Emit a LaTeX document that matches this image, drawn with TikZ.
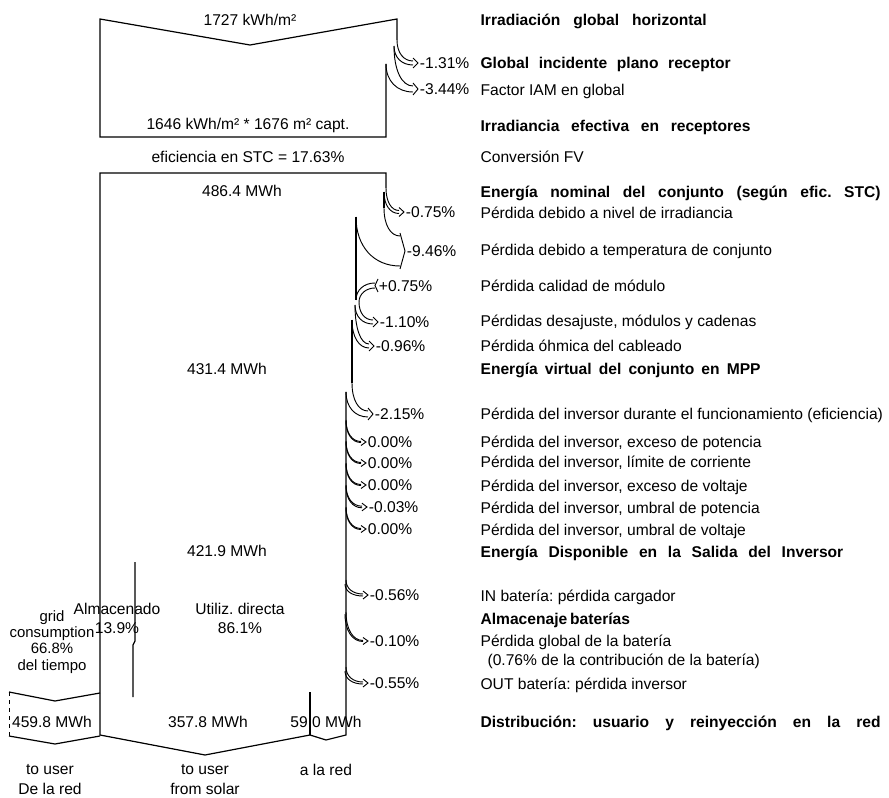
\documentclass[tikz,border=0pt]{standalone}
\usepackage{fontspec}
\setmainfont{Liberation Sans}
\usetikzlibrary{calc}
\frenchspacing

\begin{document}
\begin{tikzpicture}[x=0.75pt, y=-0.75pt, line width=0.9pt,
    font=\fontsize{11.7}{14.25}\selectfont,
    pct/.style={anchor=west, inner sep=1pt},
    desc/.style={anchor=base west, inner sep=0pt},
    title/.style={desc, font=\fontsize{11.7}{14.25}\selectfont\bfseries}]
\useasboundingbox (0,0) rectangle (889,798);

% Irradiance box
\draw (386,64) -- (386,137) -- (100,137) -- (100,19) -- (250,45) -- (397,19) -- (397,40);

% Energy flow outline
\draw (386,188) -- (386,173) -- (100,173) -- (100,735) -- (205,755) -- (310,735) -- (326,740) -- (346,735) -- (346,392);
\draw (384,192) -- (384,208);
\draw (356,217) -- (356,300);
\draw (352,320) -- (352,383);

% Storage and grid split
\draw (135,562) -- (135,641) -- (133,645) -- (133,697);
\draw (310,692) -- (310,735);
\draw (100,693) -- (55,701) -- (9,692);
\draw[dashed, line width=0.7pt] (9,692) -- (9,736);
\draw (9,736) -- (55,744) -- (100,736);

% Losses
\foreach \xa/\ya/\xb/\yb/\xt/\yt/\w/\p [count=\i] in {
    397/40/394/46/418/63/2/-1.31\%,
    394/46/386/64/418/89/3/-3.44\%,
    386/188/384/192/404/212/1.5/-0.75\%,
    384/208/356/217/405/251/15/-9.46\%,
    359/302/355/305/378/322/2/-1.10\%,
    355/305/352/320/374/346/2/-0.96\%,
    352/383/346/392/373/414/3/-2.15\%,
    346/420/346/421/366/442/0.5/0.00\%,
    346/441/346/442/366/463/0.5/0.00\%,
    346/463/346/464/366/485/0.5/0.00\%,
    346/485/346/486/367/507/0.8/-0.03\%,
    346/507/346/508/366/529/0.5/0.00\%,
    346/580/345/584/368/595/1/-0.56\%,
    346/612/345/614/368/641/0.5/-0.10\%,
    346/667/345/671/368/683/1/-0.55\%} {
  \draw[line width=0.7pt] (\xa,\ya) .. controls (\xa,{\ya+0.6*(\yt-\w-\ya)}) and ({\xt-5-0.6*(\xt-5-\xa)},{\yt-\w}) .. ({\xt-5},{\yt-\w});
  \draw[line width=0.7pt] (\xb,\yb) .. controls (\xb,{\yb+0.6*(\yt+\w-\yb)}) and ({\xt-5-0.6*(\xt-5-\xb)},{\yt+\w}) .. ({\xt-5},{\yt+\w});
  \draw[line width=0.7pt] ({\xt-5},{\yt-\w-3}) -- (\xt,\yt) -- ({\xt-5},{\yt+\w+3});
  \node[pct] (loss\i) at (\xt,\yt) {\p};
}

% Module quality gain
\draw[line width=0.7pt] (375,283) .. controls (364,283) and (356,290) .. (356,300);
\draw[line width=0.7pt] (375,288) .. controls (366,288) and (359,294) .. (359,302);
\draw[line width=0.7pt] (378,279) -- (375,285.5) -- (378,292);
\node[pct] (gain) at (377,286) {+0.75\%};

% Values inside the flow
\node (irrtop) at (250,20) {1727 kWh/m²};
\node (irrbot) at (248,125) {1646 kWh/m² * 1676 m² capt.};
\node (eff) at (248,157) {eficiencia en STC = 17.63\%};
\node (enom) at (242,191) {486.4 MWh};
\node (evirt) at (227,369) {431.4 MWh};
\node (eout) at (227,551) {421.9 MWh};
\node[align=center] (stored) at (117,618) {Almacenado\\13.9\%};
\node[align=center] (direct) at (240,618) {Utiliz. directa\\86.1\%};
\node[align=center, font=\fontsize{11.2}{12.2}\selectfont] (gridc) at (52,642) {grid\\consumption\\66.8\%\\del tiempo};
\node (egrid) at (52,722) {459.8 MWh};
\node (euser) at (208,722) {357.8 MWh};
\node (ered) at (326,722) {59.0 MWh};
\node[align=center, font=\fontsize{11.7}{15}\selectfont] (togrid) at (50,780) {to user\\De la red};
\node[align=center, font=\fontsize{11.7}{15}\selectfont] (tosolar) at (205,780) {to user\\from solar};
\node (tored) at (326,770) {a la red};

% Step titles (spread to their printed widths, in pt)
\foreach \y/\w/\t [count=\i] in {26/169.5/Irradiación global horizontal,
    69/187.5/Global incidente plano receptor,
    132/202.5/Irradiancia efectiva en receptores,
    198/300/Energía nominal del conjunto (según efic. STC),
    375/210/Energía virtual del conjunto en MPP,
    557/272/Energía Disponible en la Salida del Inversor,
    624/101/Almacenaje baterías,
    727/300/Distribución: usuario y reinyección en la red} {
  \node[title] (title\i) at (480,\y) {\makebox[\w pt][s]{\t}};
}

% Step descriptions
\foreach \y/\t [count=\i] in {96/Factor IAM en global,
    163/Conversión FV,
    219/Pérdida debido a nivel de irradiancia,
    256/Pérdida debido a temperatura de conjunto,
    292/Pérdida calidad de módulo,
    327/{Pérdidas desajuste, módulos y cadenas},
    352/Pérdida óhmica del cableado,
    420/Pérdida del inversor durante el funcionamiento (eficiencia),
    447/{Pérdida del inversor, exceso de potencia},
    468/{Pérdida del inversor, límite de corriente},
    491/{Pérdida del inversor, exceso de voltaje},
    513/{Pérdida del inversor, umbral de potencia},
    535/{Pérdida del inversor, umbral de voltaje},
    601/IN batería: pérdida cargador,
    646/Pérdida global de la batería,
    689/OUT batería: pérdida inversor} {
  \node[desc] (desc\i) at (480,\y) {\t};
}
\node[desc] (batnote) at (487,665) {(0.76\% de la contribución de la batería)};
\end{tikzpicture}
\end{document}
